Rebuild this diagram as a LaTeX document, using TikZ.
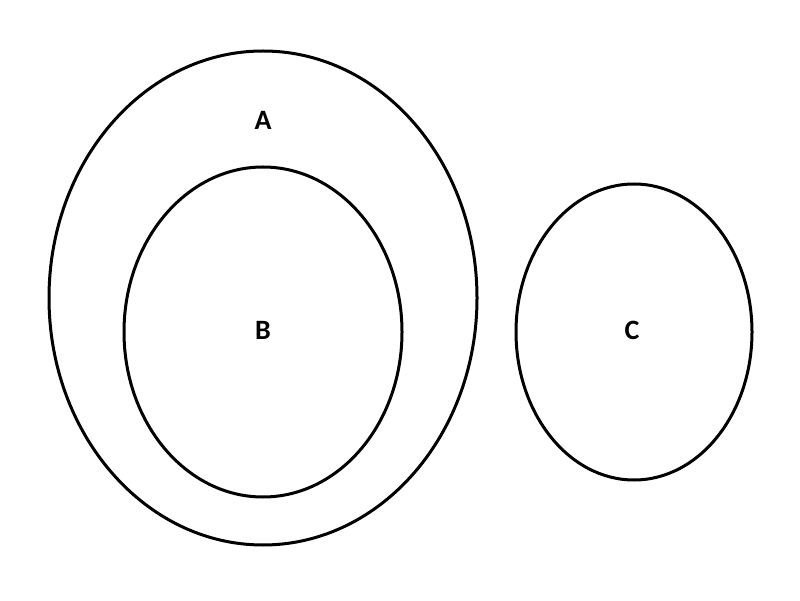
\documentclass[tikz,border=0pt]{standalone}
\usepackage{fontspec}
\setmainfont{Carlito}
\begin{document}
\begin{tikzpicture}[x=1pt,y=1pt,
  ring/.style={line width=3pt,draw=black},
  lab/.style={font=\fontsize{28}{32}\selectfont\bfseries}]
\useasboundingbox (0,0) rectangle (800,600);
\fill[white] (0,0) rectangle (800,600);
\draw[ring] (263,302) ellipse [x radius=214, y radius=247];
\draw[ring] (263,268) ellipse [x radius=139, y radius=165];
\draw[ring] (634,268) ellipse [x radius=118, y radius=148];
\node[lab] (a) at (263,480) {A};
\node[lab] (b) at (263,270) {B};
\node[lab] (c) at (632,270) {C};
\end{tikzpicture}
\end{document}
